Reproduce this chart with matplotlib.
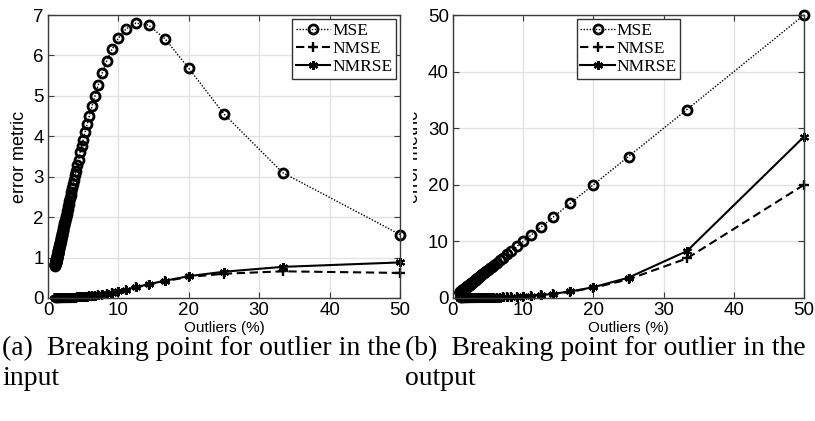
import matplotlib
matplotlib.use('Agg')
import matplotlib.pyplot as plt
import numpy as np
from matplotlib.transforms import Bbox, TransformedBbox

# outlier percentage (100/n, n = 2..100)
outliers = [50.0, 33.33, 25.0, 20.0, 16.67, 14.29, 12.5, 11.11, 10.0, 9.09,
            8.33, 7.69, 7.14, 6.67, 6.25, 5.88, 5.56, 5.26, 5.0, 4.76,
            4.55, 4.35, 4.17, 4.0, 3.85, 3.7, 3.57, 3.45, 3.33, 3.23,
            3.13, 3.03, 2.94, 2.86, 2.78, 2.7, 2.63, 2.56, 2.5, 2.44,
            2.38, 2.33, 2.27, 2.22, 2.17, 2.13, 2.08, 2.04, 2.0, 1.96,
            1.92, 1.89, 1.85, 1.82, 1.79, 1.75, 1.72, 1.69, 1.67, 1.64,
            1.61, 1.59, 1.56, 1.54, 1.52, 1.49, 1.47, 1.45, 1.43, 1.41,
            1.39, 1.37, 1.35, 1.33, 1.32, 1.3, 1.28, 1.27, 1.25, 1.23,
            1.22, 1.2, 1.19, 1.18, 1.16, 1.15, 1.14, 1.12, 1.11, 1.1,
            1.09, 1.08, 1.06, 1.05, 1.04, 1.03, 1.02, 1.01, 1.0]

# (a) outlier in the input
mse_in = [1.57, 3.10, 4.55, 5.68, 6.40, 6.75, 6.80, 6.66, 6.43, 6.15,
          5.86, 5.56, 5.27, 5.00, 4.74, 4.51, 4.30, 4.10, 3.92, 3.75,
          3.60, 3.42, 3.28, 3.15, 3.04, 2.92, 2.82, 2.73, 2.63, 2.56,
          2.48, 2.40, 2.33, 2.27, 2.20, 2.14, 2.09, 2.03, 1.99, 1.94,
          1.89, 1.85, 1.80, 1.77, 1.73, 1.69, 1.66, 1.62, 1.59, 1.56,
          1.53, 1.50, 1.47, 1.45, 1.42, 1.39, 1.37, 1.35, 1.33, 1.31,
          1.28, 1.27, 1.24, 1.23, 1.21, 1.19, 1.17, 1.16, 1.14, 1.12,
          1.11, 1.09, 1.08, 1.06, 1.05, 1.04, 1.02, 1.01, 1.00, 0.98,
          0.97, 0.96, 0.95, 0.94, 0.93, 0.92, 0.91, 0.90, 0.89, 0.88,
          0.87, 0.86, 0.85, 0.84, 0.83, 0.82, 0.81, 0.81, 0.80]
nmse_in = [0.62, 0.66, 0.60, 0.52, 0.42, 0.33, 0.26, 0.20, 0.16, 0.13,
           0.105, 0.085, 0.070, 0.057, 0.047, 0.039, 0.033, 0.028, 0.024, 0.021,
           0.018, 0.016, 0.014, 0.012, 0.011, 0.010, 0.009, 0.008, 0.007, 0.007,
           0.006, 0.006, 0.005, 0.005, 0.005, 0.004, 0.004, 0.004, 0.003, 0.003,
           0.003, 0.003, 0.003, 0.002, 0.002, 0.002, 0.002, 0.002, 0.002, 0.002,
           0.002, 0.002, 0.002, 0.001, 0.001, 0.001, 0.001, 0.001, 0.001, 0.001,
           0.001, 0.001, 0.001, 0.001, 0.001, 0.001, 0.001, 0.001, 0.001, 0.001,
           0.001, 0.001, 0.001, 0.001, 0.001, 0.0, 0.0, 0.0, 0.0, 0.0,
           0.0, 0.0, 0.0, 0.0, 0.0, 0.0, 0.0, 0.0, 0.0, 0.0,
           0.0, 0.0, 0.0, 0.0, 0.0, 0.0, 0.0, 0.0, 0.0]
nmrse_in = [0.88, 0.77, 0.65, 0.54, 0.43, 0.34, 0.27, 0.21, 0.17, 0.135,
            0.11, 0.09, 0.073, 0.06, 0.049, 0.041, 0.034, 0.029, 0.025, 0.022,
            0.019, 0.017, 0.015, 0.013, 0.012, 0.011, 0.010, 0.009, 0.008, 0.007,
            0.007, 0.006, 0.006, 0.005, 0.005, 0.005, 0.004, 0.004, 0.004, 0.003,
            0.003, 0.003, 0.003, 0.003, 0.002, 0.002, 0.002, 0.002, 0.002, 0.002,
            0.002, 0.002, 0.002, 0.002, 0.001, 0.001, 0.001, 0.001, 0.001, 0.001,
            0.001, 0.001, 0.001, 0.001, 0.001, 0.001, 0.001, 0.001, 0.001, 0.001,
            0.001, 0.001, 0.001, 0.001, 0.001, 0.001, 0.0, 0.0, 0.0, 0.0,
            0.0, 0.0, 0.0, 0.0, 0.0, 0.0, 0.0, 0.0, 0.0, 0.0,
            0.0, 0.0, 0.0, 0.0, 0.0, 0.0, 0.0, 0.0, 0.0]

# (b) outlier in the output
mse_out = [50.0, 33.3, 25.0, 20.0, 16.7, 14.3, 12.5, 11.1, 10.0, 9.1,
           8.33, 7.69, 7.14, 6.67, 6.25, 5.88, 5.56, 5.26, 5.0, 4.76,
           4.55, 4.35, 4.17, 4.0, 3.85, 3.7, 3.57, 3.45, 3.33, 3.23,
           3.13, 3.03, 2.94, 2.86, 2.78, 2.7, 2.63, 2.56, 2.5, 2.44,
           2.38, 2.33, 2.27, 2.22, 2.17, 2.13, 2.08, 2.04, 2.0, 1.96,
           1.92, 1.89, 1.85, 1.82, 1.79, 1.75, 1.72, 1.69, 1.67, 1.64,
           1.61, 1.59, 1.56, 1.54, 1.52, 1.49, 1.47, 1.45, 1.43, 1.41,
           1.39, 1.37, 1.35, 1.33, 1.32, 1.3, 1.28, 1.27, 1.25, 1.23,
           1.22, 1.2, 1.19, 1.18, 1.16, 1.15, 1.14, 1.12, 1.11, 1.1,
           1.09, 1.08, 1.06, 1.05, 1.04, 1.03, 1.02, 1.01, 1.0]
nmse_out = [20.0, 7.0, 3.3, 1.8, 1.1, 0.70, 0.48, 0.35, 0.26, 0.20,
            0.15, 0.12, 0.09, 0.07, 0.06, 0.05, 0.04, 0.035, 0.03, 0.026,
            0.023, 0.02, 0.018, 0.016, 0.014, 0.012, 0.011, 0.01, 0.009, 0.008,
            0.007, 0.007, 0.006, 0.006, 0.005, 0.005, 0.004, 0.004, 0.004, 0.003,
            0.003, 0.003, 0.003, 0.002, 0.002, 0.002, 0.002, 0.002, 0.002, 0.002,
            0.002, 0.001, 0.001, 0.001, 0.001, 0.001, 0.001, 0.001, 0.001, 0.001,
            0.001, 0.001, 0.001, 0.001, 0.001, 0.001, 0.001, 0.001, 0.0, 0.0,
            0.0, 0.0, 0.0, 0.0, 0.0, 0.0, 0.0, 0.0, 0.0, 0.0,
            0.0, 0.0, 0.0, 0.0, 0.0, 0.0, 0.0, 0.0, 0.0, 0.0,
            0.0, 0.0, 0.0, 0.0, 0.0, 0.0, 0.0, 0.0, 0.0]
nmrse_out = [28.5, 8.3, 3.6, 1.9, 1.15, 0.75, 0.50, 0.37, 0.28, 0.21,
             0.16, 0.13, 0.10, 0.08, 0.065, 0.055, 0.045, 0.038, 0.032, 0.028,
             0.024, 0.021, 0.019, 0.017, 0.015, 0.013, 0.012, 0.011, 0.01, 0.009,
             0.008, 0.008, 0.007, 0.006, 0.006, 0.005, 0.005, 0.005, 0.004, 0.004,
             0.004, 0.003, 0.003, 0.003, 0.003, 0.002, 0.002, 0.002, 0.002, 0.002,
             0.002, 0.002, 0.002, 0.001, 0.001, 0.001, 0.001, 0.001, 0.001, 0.001,
             0.001, 0.001, 0.001, 0.001, 0.001, 0.001, 0.001, 0.001, 0.001, 0.001,
             0.0, 0.0, 0.0, 0.0, 0.0, 0.0, 0.0, 0.0, 0.0, 0.0,
             0.0, 0.0, 0.0, 0.0, 0.0, 0.0, 0.0, 0.0, 0.0, 0.0,
             0.0, 0.0, 0.0, 0.0, 0.0, 0.0, 0.0, 0.0, 0.0]

labels = ['MSE', 'NMSE', 'NMRSE']
captions = ['(a)  Breaking point for outlier in the\ninput',
            '(b)  Breaking point for outlier in the\noutput']

plt.rcParams['font.family'] = 'Liberation Sans'
W, H = 815, 421
fig = plt.figure(figsize=(W / 100, H / 100), dpi=100)
ax1 = fig.add_axes([48 / W, 1 - 298 / H, 352 / W, 283 / H])
ax2 = fig.add_axes([453 / W, 1 - 298 / H, 351 / W, 283 / H])


def draw_panel(ax, mse, nmse, nmrse, ymax, ystep, legloc):
    ax.plot(outliers, mse, color='k', linestyle=(0, (1, 1.2)), lw=1.0,
            marker='o', ms=6.5, mew=2.0, mfc='none', clip_on=False, label=labels[0])
    ax.plot(outliers, nmse, color='k', linestyle=(0, (4, 2.2)), lw=1.5,
            marker='+', ms=6.5, mew=1.7, clip_on=False, label=labels[1])
    ax.plot(outliers, nmrse, color='k', linestyle='-', lw=1.5,
            marker=(6, 2, 0), ms=6.5, mew=1.5, clip_on=False, label=labels[2])
    ax.set_xlim(0, 50)
    ax.set_ylim(0, ymax)
    ax.set_xticks(np.arange(0, 51, 10))
    ax.set_yticks(np.arange(0, ymax + 0.1, ystep))
    ax.grid(True, color='#e3e3e3', lw=1.0)
    ax.set_axisbelow(True)
    for s in ax.spines.values():
        s.set_color('#3a3a3a')
        s.set_linewidth(1.0)
    ax.tick_params(direction='in', length=4, width=0.8, color='#3a3a3a',
                   top=True, right=True, labelsize=13.5, pad=3)
    ax.set_xlabel('Outliers (%)', fontsize=11, labelpad=1)
    leg = ax.legend(loc=legloc, prop={'family': 'Liberation Serif', 'size': 12.5},
                    handlelength=2.0, handletextpad=0.1, borderpad=0.2,
                    labelspacing=0.12, borderaxespad=0.25, fancybox=False,
                    framealpha=1, edgecolor='#333333')
    leg.get_frame().set_linewidth(1.0)
    return ax


draw_panel(ax1, mse_in, nmse_in, nmrse_in, 7, 1, 'upper right')
draw_panel(ax2, mse_out, nmse_out, nmrse_out, 50, 10, 'upper center')

ax1.set_ylabel('error metric', fontsize=13, labelpad=4)
lbl = ax2.set_ylabel('error metric', fontsize=13, labelpad=4)
# the right y label is cut by the subfigure boundary in the original
lbl.set_clip_on(True)
lbl.set_clip_box(TransformedBbox(Bbox([[413 / W, 0], [1, 1]]), fig.transFigure))

fig.text(2 / W, 1 - 336 / H, captions[0], family='Liberation Serif', fontsize=20,
         va='top', ha='left', linespacing=1.25)
fig.text(405 / W, 1 - 336 / H, captions[1], family='Liberation Serif', fontsize=20,
         va='top', ha='left', linespacing=1.25)

fig.savefig('out.png', dpi=100)
